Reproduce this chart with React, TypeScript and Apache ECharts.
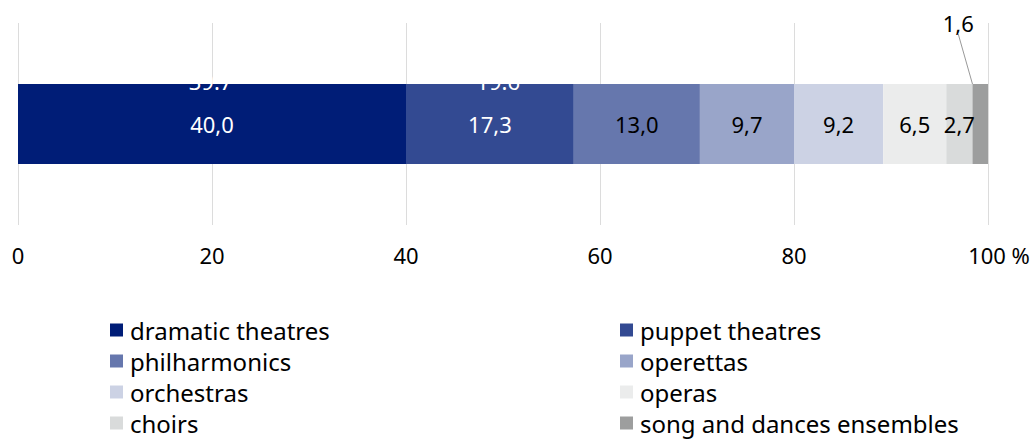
import React, { useEffect, useRef } from "react";
import * as echarts from "echarts";

const categories = ["share"];
const seriesNames = [
  "dramatic theatres",
  "puppet theatres",
  "philharmonics",
  "operettas",
  "orchestras",
  "operas",
  "choirs",
  "song and dances ensembles",
];
const values = [40.0, 17.3, 13.0, 9.7, 9.2, 6.5, 2.7, 1.6];
const colors = ["#001d77", "#334a92", "#6677ad", "#99a5c9", "#ccd2e4", "#ebecec", "#d9dbdb", "#9d9e9e"];
const labelColors = ["#ffffff", "#ffffff", "#000000", "#000000", "#000000", "#000000", "#000000", "#000000"];
const ghostValues = [39.7, 19.6];
const xTicks = [0, 20, 40, 60, 80, 100];

const FONT = "Noto Sans";
const fmt = (v: number) => v.toFixed(1).replace(".", ",");

export default function App() {
  const ref = useRef<HTMLDivElement>(null);
  useEffect(() => {
    document.body.style.margin = "0";
    if (!ref.current) return;
    const chart = echarts.init(ref.current, undefined, { renderer: "svg" });

    const ghostData: number[][] = [];
    let acc = 0;
    ghostValues.forEach((v) => {
      ghostData.push([acc + v / 2, 0, v]);
      acc += v;
    });

    const barSeries = seriesNames.map((name, i) => {
      const last = i === seriesNames.length - 1;
      return {
        name,
        type: "bar",
        stack: "total",
        barWidth: 80,
        data: [values[i]],
        itemStyle: { color: colors[i] },
        label: {
          show: true,
          position: last ? "top" : "inside",
          formatter: (p: any) => fmt(p.value),
          color: labelColors[i],
          fontFamily: FONT,
          fontSize: 22,
        },
        ...(last
          ? {
              labelLayout: { dx: -22, dy: -45 },
              labelLine: { show: true, lineStyle: { color: "#999999", width: 1 } },
            }
          : {}),
      };
    });

    const legendText = { fontFamily: FONT, fontSize: 24, color: "#000", lineHeight: 24, padding: [0, 0, 0, 2] };

    chart.setOption({
      animation: false,
      grid: { left: 18, right: 47, top: 23, bottom: 214 },
      xAxis: {
        type: "value",
        min: xTicks[0],
        max: xTicks[xTicks.length - 1],
        interval: 20,
        axisLine: { show: false },
        axisTick: { show: false },
        splitLine: { show: true, lineStyle: { color: "#dcdcdc", width: 1 } },
        axisLabel: {
          margin: 19,
          color: "#000",
          fontFamily: FONT,
          fontSize: 22,
          formatter: (v: number) => (v === 100 ? "{a|100 %}" : String(v)),
          rich: {
            a: { fontFamily: FONT, fontSize: 22, color: "#000", padding: [0, 0, 0, 22] },
          },
        },
      },
      yAxis: { type: "category", data: categories, show: false },
      legend: [
        {
          orient: "vertical",
          left: 110,
          top: 318,
          padding: 0,
          itemWidth: 13,
          itemHeight: 13,
          itemGap: 7,
          icon: "rect",
          selectedMode: false,
          data: [seriesNames[0], seriesNames[2], seriesNames[4], seriesNames[6]],
          textStyle: legendText,
        },
        {
          orient: "vertical",
          left: 620,
          top: 318,
          padding: 0,
          itemWidth: 13,
          itemHeight: 13,
          itemGap: 7,
          icon: "rect",
          selectedMode: false,
          data: [seriesNames[1], seriesNames[3], seriesNames[5], seriesNames[7]],
          textStyle: legendText,
        },
      ],
      series: [
        ...barSeries,
        {
          type: "custom",
          z: 10,
          silent: true,
          data: ghostData,
          encode: { x: 0, y: 1 },
          renderItem: (params: any, api: any) => {
            const p = api.coord([api.value(0), api.value(1)]);
            return {
              type: "text",
              x: p[0],
              y: p[1] - 43,
              style: {
                text: String(api.value(2)),
                fill: "#ffffff",
                font: `22px "${FONT}"`,
                align: "center",
                verticalAlign: "middle",
              },
            };
          },
        },
      ],
    });
    return () => chart.dispose();
  }, []);
  return <div ref={ref} style={{ width: 1035, height: 439 }} />;
}
